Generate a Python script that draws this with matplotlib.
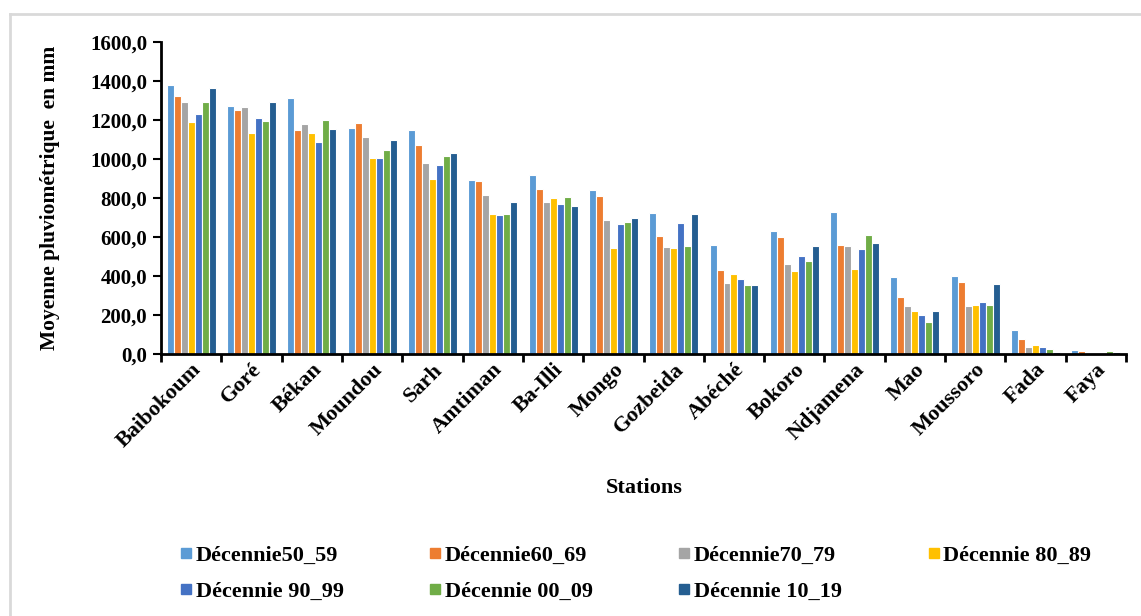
import numpy as np
import matplotlib
matplotlib.use("Agg")
import matplotlib.pyplot as plt
from matplotlib.lines import Line2D
from matplotlib.ticker import FuncFormatter

stations = ["Baibokoum", "Goré", "Békan", "Moundou", "Sarh", "Amtiman", "Ba-Illi", "Mongo",
            "Gozbeida", "Abéché", "Bokoro", "Ndjamena", "Mao", "Moussoro", "Fada", "Faya"]

decennies = ["Décennie50_59", "Décennie60_69", "Décennie70_79", "Décennie 80_89",
             "Décennie 90_99", "Décennie 00_09", "Décennie 10_19"]

# moyennes par station, une liste par decennie
d50_59 = [1378, 1270, 1314, 1159, 1147, 890, 916, 843, 723, 561, 629, 728, 393, 400, 125, 20]
d60_69 = [1321, 1253, 1147, 1184, 1072, 885, 848, 810, 605, 431, 598, 561, 294, 369, 76, 13]
d70_79 = [1290, 1265, 1178, 1111, 978, 817, 779, 687, 549, 362, 463, 555, 244, 244, 38, 7]
d80_89 = [1190, 1133, 1133, 1003, 897, 716, 798, 543, 542, 410, 424, 437, 219, 251, 44, 7]
d90_99 = [1229, 1208, 1085, 1003, 967, 711, 767, 668, 673, 386, 504, 537, 202, 268, 38, 3]
d00_09 = [1290, 1196, 1201, 1048, 1015, 716, 803, 675, 554, 355, 475, 612, 164, 251, 26, 13]
d10_19 = [1364, 1290, 1152, 1096, 1029, 779, 760, 699, 716, 355, 555, 567, 219, 357, 12, 8]

series = [d50_59, d60_69, d70_79, d80_89, d90_99, d00_09, d10_19]
colors = ["#5B9BD5", "#ED7D31", "#A5A5A5", "#FFC000", "#4472C4", "#70AD47", "#255E91"]

plt.rcParams['font.family'] = ['Liberation Serif', 'DejaVu Serif']
plt.rcParams['font.weight'] = 'bold'

fig = plt.figure(figsize=(11.41, 6.16), dpi=100)
ax = fig.add_axes([0.1411, 0.4253, 0.8458, 0.5065])

x = np.arange(len(stations))
bw = 0.116
handles = []
for k, (vals, col) in enumerate(zip(series, colors)):
    pos = x + (k - 3) * bw
    ax.bar(pos, vals, width=bw, color=col, edgecolor='white', linewidth=0.8, zorder=2)
    handles.append(Line2D([], [], marker='s', linestyle='none', markersize=7,
                          markerfacecolor=col, markeredgecolor=col))

ax.set_xlim(-0.5, len(stations) - 0.5)
ax.set_ylim(0, 1600)
ax.set_yticks(np.arange(0, 1601, 200))
ax.yaxis.set_major_formatter(FuncFormatter(lambda v, p: f"{v:.1f}".replace('.', ',')))

# graduations entre les stations, etiquettes au centre
ax.set_xticks(np.arange(-0.5, len(stations), 1.0))
ax.set_xticklabels([])
ax.set_xticks(x, minor=True)
ax.set_xticklabels(stations, minor=True, rotation=45, ha='right', rotation_mode='anchor',
                   fontsize=16, fontweight='bold')
ax.tick_params(axis='x', which='minor', length=0, pad=4)
ax.tick_params(axis='x', which='major', length=6, width=2, direction='out')
ax.tick_params(axis='y', length=6, width=1.5, direction='out', labelsize=15, pad=4)
for lab in ax.get_yticklabels():
    lab.set_fontweight('bold')

for s in ['top', 'right']:
    ax.spines[s].set_visible(False)
ax.spines['left'].set_linewidth(2)
ax.spines['bottom'].set_linewidth(2)

ax.set_ylabel("Moyenne pluviométrique  en mm", fontsize=15.5, fontweight='bold')
ax.yaxis.set_label_coords(-0.105, 0.5)
fig.text(0.565, 0.208, "Stations", fontsize=16, fontweight='bold', ha='center', va='center')

# ordre ligne par ligne dans la legende a 4 colonnes
order = [0, 4, 1, 5, 2, 6, 3]
fig.legend([handles[i] for i in order], [decennies[i] for i in order],
           ncol=4, loc='center', bbox_to_anchor=(0.557, 0.069), frameon=False,
           fontsize=16, handlelength=0.55, handletextpad=0.15, columnspacing=3.85,
           labelspacing=0.72)

# cadre gris du graphique
fig.add_artist(Line2D([10 / 1141, 10 / 1141], [0, 1 - 14 / 616], color='#d9d9d9', lw=2,
                      transform=fig.transFigure))
fig.add_artist(Line2D([10 / 1141, 1], [1 - 14 / 616, 1 - 14 / 616], color='#d9d9d9', lw=2,
                      transform=fig.transFigure))

fig.savefig("out.png", dpi=100)
